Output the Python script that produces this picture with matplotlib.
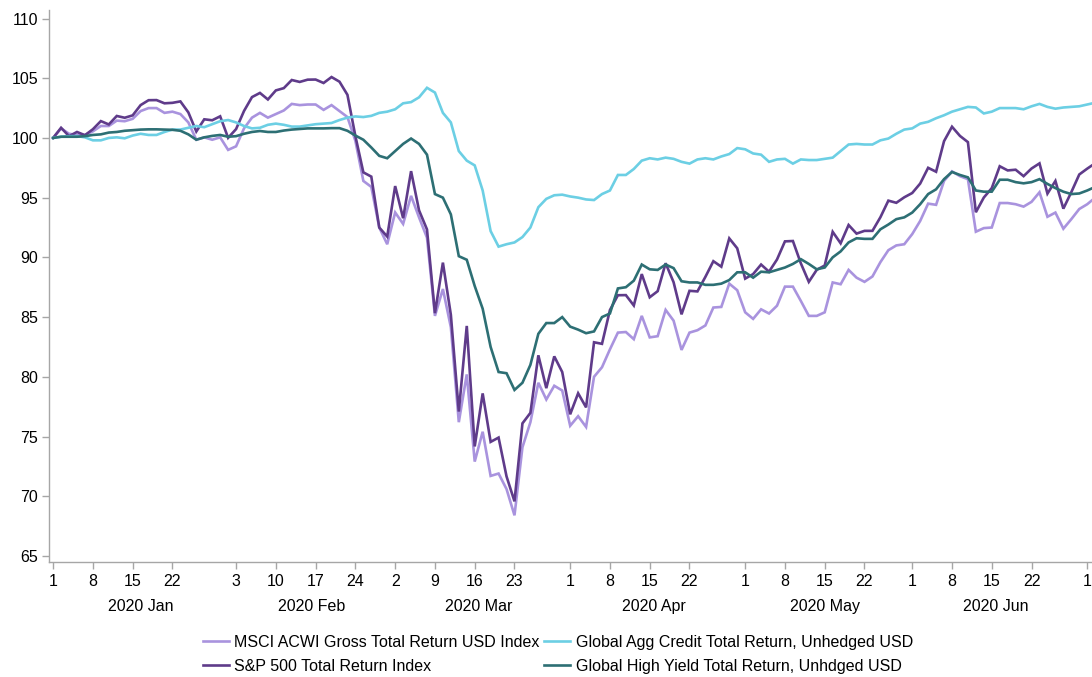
import numpy as np
import pandas as pd
import matplotlib
matplotlib.use("Agg")
import matplotlib.pyplot as plt
import matplotlib.transforms as mtransforms

plt.rcParams['font.family'] = ['Liberation Sans', 'DejaVu Sans']

# business days, 1 Jan 2020 .. 2 Jul 2020 (index = 100 at start)
dates = pd.bdate_range('2020-01-01', '2020-07-02')

msci = [100.0, 100.8, 100.35, 100.25, 100.25, 100.55, 101.0, 101.0, 101.45, 101.4,
        101.6, 102.25, 102.5, 102.5, 102.1, 102.2, 102.0, 101.3, 99.85, 100.05,
        99.85, 100.05, 99.0, 99.3, 100.8, 101.7, 102.1, 101.7, 102.0, 102.3,
        102.85, 102.75, 102.8, 102.8, 102.35, 102.75, 102.25, 101.75, 99.75, 96.4,
        95.9, 92.5, 91.1, 93.76, 92.8, 95.15, 93.35, 91.65, 85.1, 87.35,
        84.15, 76.2, 80.2, 72.9, 75.4, 71.7, 71.9, 70.6, 68.4, 74.1,
        76.2, 79.5, 78.1, 79.25, 78.85, 75.9, 76.7, 75.8, 80.0, 80.8,
        82.3, 83.7, 83.75, 83.15, 85.1, 83.3, 83.4, 85.6, 84.7, 82.25,
        83.7, 83.9, 84.3, 85.8, 85.85, 87.8, 87.25, 85.4, 84.85, 85.65,
        85.3, 85.95, 87.55, 87.55, 86.35, 85.1, 85.1, 85.4, 87.9, 87.75,
        88.95, 88.3, 87.95, 88.4, 89.6, 90.6, 91.0, 91.1, 91.95, 93.05,
        94.5, 94.4, 96.4, 97.2, 96.8, 96.55, 92.15, 92.45, 92.5, 94.55,
        94.55, 94.45, 94.25, 94.65, 95.45, 93.4, 93.75, 92.4, 93.2, 94.05,
        94.45, 95.0]

sp500 = [100.0, 100.85, 100.15, 100.5, 100.23, 100.73, 101.41, 101.13, 101.84, 101.69,
         101.89, 102.75, 103.16, 103.17, 102.9, 102.94, 103.06, 102.14, 100.54, 101.56,
         101.48, 101.81, 100.01, 100.74, 102.26, 103.42, 103.77, 103.22, 103.98, 104.17,
         104.85, 104.69, 104.88, 104.89, 104.6, 105.1, 104.71, 103.61, 100.15, 97.12,
         96.76, 92.5, 91.74, 95.97, 93.28, 97.22, 93.94, 92.34, 85.33, 89.56,
         85.19, 77.09, 84.26, 74.17, 78.61, 74.55, 74.91, 71.66, 69.57, 76.1,
         76.98, 81.8, 79.05, 81.71, 80.4, 76.86, 78.62, 77.44, 82.89, 82.76,
         85.59, 86.83, 86.84, 85.97, 88.6, 86.66, 87.17, 89.51, 87.92, 85.23,
         87.2, 87.15, 88.37, 89.68, 89.22, 91.59, 90.76, 88.22, 88.6, 89.4,
         88.8, 89.82, 91.34, 91.37, 89.5, 87.95, 88.96, 89.32, 92.14, 91.18,
         92.71, 91.99, 92.22, 92.22, 93.36, 94.75, 94.57, 95.03, 95.39, 96.18,
         97.5, 97.17, 99.73, 100.94, 100.17, 99.65, 93.78, 95.01, 95.8, 97.63,
         97.28, 97.34, 96.8, 97.44, 97.87, 95.34, 96.4, 94.08, 95.46, 96.94,
         97.43, 97.88]

agg_credit = [100.0, 100.1, 100.15, 100.15, 100.05, 99.8, 99.8, 100.0, 100.05, 99.97,
              100.2, 100.35, 100.25, 100.25, 100.5, 100.7, 100.7, 100.85, 101.0, 100.9,
              101.15, 101.4, 101.5, 101.3, 101.0, 100.8, 100.85, 101.1, 101.2, 101.1,
              100.95, 100.95, 101.05, 101.15, 101.2, 101.25, 101.5, 101.7, 101.8, 101.75,
              101.85, 102.1, 102.2, 102.4, 102.9, 103.0, 103.4, 104.2, 103.8, 102.1,
              101.3, 98.9, 98.1, 97.7, 95.6, 92.2, 90.9, 91.1, 91.25, 91.7,
              92.5, 94.2, 94.9, 95.2, 95.25, 95.1, 95.0, 94.85, 94.8, 95.3,
              95.6, 96.9, 96.9, 97.4, 98.1, 98.3, 98.2, 98.35, 98.25, 98.0,
              97.85, 98.2, 98.3, 98.2, 98.45, 98.65, 99.15, 99.05, 98.7, 98.6,
              98.0, 98.2, 98.25, 97.85, 98.2, 98.15, 98.15, 98.25, 98.35, 98.9,
              99.45, 99.5, 99.45, 99.45, 99.8, 99.95, 100.35, 100.7, 100.8, 101.2,
              101.35, 101.65, 101.9, 102.2, 102.4, 102.6, 102.55, 102.05, 102.2, 102.5,
              102.5, 102.5, 102.4, 102.65, 102.85, 102.6, 102.45, 102.55, 102.6, 102.65,
              102.8, 102.95]

high_yield = [100.0, 100.1, 100.1, 100.1, 100.15, 100.25, 100.3, 100.45, 100.5, 100.6,
              100.65, 100.7, 100.72, 100.72, 100.7, 100.68, 100.6, 100.3, 99.85, 100.05,
              100.17, 100.25, 100.1, 100.15, 100.35, 100.5, 100.58, 100.5, 100.5, 100.62,
              100.7, 100.75, 100.8, 100.8, 100.8, 100.82, 100.82, 100.6, 100.2, 99.85,
              99.2, 98.5, 98.3, 98.9, 99.5, 99.95, 99.5, 98.6, 95.3, 95.0,
              93.6, 90.1, 89.8, 87.6, 85.7, 82.5, 80.4, 80.3, 78.9, 79.5,
              81.0, 83.6, 84.5, 84.5, 85.0, 84.2, 83.95, 83.65, 83.8, 85.0,
              85.3, 87.4, 87.5, 88.05, 89.4, 89.0, 88.95, 89.4, 89.1, 88.0,
              87.9, 87.9, 87.7, 87.7, 87.8, 88.1, 88.75, 88.75, 88.3, 88.8,
              88.75, 88.95, 89.15, 89.45, 89.85, 89.45, 89.0, 89.15, 90.0, 90.5,
              91.25, 91.6, 91.55, 91.55, 92.35, 92.75, 93.2, 93.35, 93.75, 94.45,
              95.3, 95.7, 96.55, 97.15, 96.9, 96.7, 95.6, 95.5, 95.5, 96.5,
              96.5, 96.3, 96.2, 96.3, 96.55, 96.15, 95.8, 95.5, 95.3, 95.35,
              95.6, 95.9]

labels = ['MSCI ACWI Gross Total Return USD Index',
          'S&P 500 Total Return Index',
          'Global Agg Credit Total Return, Unhedged USD',
          'Global High Yield Total Return, Unhdged USD']
colors = ['#a993de', '#5f3b8a', '#6ccfe4', '#2d6f74']

tick_days = ['2020-01-01', '2020-01-08', '2020-01-15', '2020-01-22',
             '2020-02-03', '2020-02-10', '2020-02-17', '2020-02-24',
             '2020-03-02', '2020-03-09', '2020-03-16', '2020-03-23',
             '2020-04-01', '2020-04-08', '2020-04-15', '2020-04-22',
             '2020-05-01', '2020-05-08', '2020-05-15', '2020-05-22',
             '2020-06-01', '2020-06-08', '2020-06-15', '2020-06-22',
             '2020-07-01']

x = np.arange(len(dates))

fig = plt.figure(figsize=(10.92, 6.77), dpi=100)
ax = fig.add_axes([0.045, 0.170, 0.955, 0.815])

lines = []
for series, lab, col in zip([msci, sp500, agg_credit, high_yield], labels, colors):
    ln, = ax.plot(x, series, color=col, lw=1.9, label=lab, solid_joinstyle='miter')
    lines.append(ln)

ax.set_xlim(-0.5, 130.6)
ax.set_ylim(64.5, 110.7)
ax.set_yticks(np.arange(65, 111, 5))

tick_dates = pd.to_datetime(tick_days)
tick_pos = dates.get_indexer(tick_dates)
ax.set_xticks(tick_pos)
ax.set_xticklabels([str(d.day) for d in tick_dates])

for side in ['top', 'right']:
    ax.spines[side].set_visible(False)
for side in ['left', 'bottom']:
    ax.spines[side].set_color('#a6a6a6')
    ax.spines[side].set_linewidth(1.0)
ax.tick_params(axis='both', colors='#a6a6a6', labelcolor='#000000',
               labelsize=11.5, length=5, width=1.0)
ax.tick_params(axis='x', pad=4)
ax.tick_params(axis='y', pad=3)

# month names centred under each month's business days
trans = mtransforms.blended_transform_factory(ax.transData, ax.transAxes)
months = dates.to_period('M')
for m in months.unique():
    if m.month > 6:
        continue
    pos = x[months == m]
    ax.text(pos.mean(), -0.081, m.strftime('%Y %b'), transform=trans,
            ha='center', va='center', fontsize=11.5)

fig.legend(handles=lines, loc='lower center', bbox_to_anchor=(0.511, 0.0),
           ncol=2, frameon=False, fontsize=11.5, handlelength=1.6,
           handletextpad=0.35, columnspacing=0.3, labelspacing=0.58,
           borderaxespad=0.0, borderpad=0.2)

fig.savefig('out.png', dpi=100)
